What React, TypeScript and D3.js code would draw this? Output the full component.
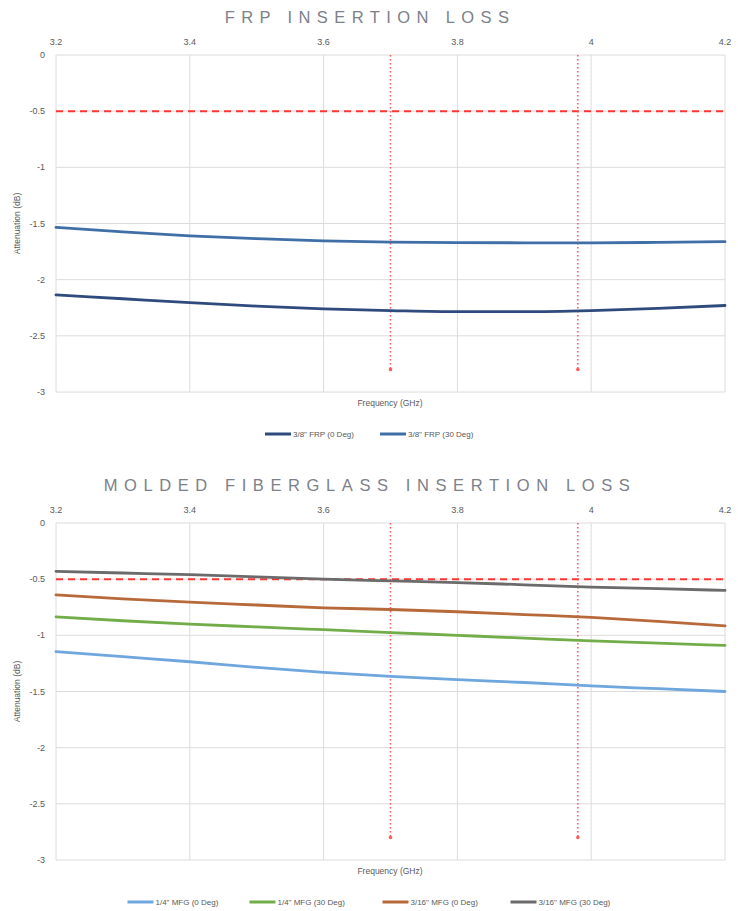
import React from "react";
import * as d3 from "d3";

const freqs = [3.2, 3.3, 3.4, 3.5, 3.6, 3.7, 3.8, 3.9, 4.0, 4.1, 4.2];
const xTicks = [3.2, 3.4, 3.6, 3.8, 4.0, 4.2];
const yTicks = [0, -0.5, -1, -1.5, -2, -2.5, -3];
const markerFreqs = [3.7, 3.98];
const limitDb = -0.5;
const markerBottom = -2.8;

const frp0 = [-2.135, -2.17, -2.205, -2.235, -2.26, -2.275, -2.285, -2.285, -2.275, -2.255, -2.23];
const frp30 = [-1.535, -1.575, -1.61, -1.635, -1.655, -1.665, -1.67, -1.672, -1.672, -1.668, -1.662];
const mfg14_0 = [-1.145, -1.19, -1.235, -1.285, -1.33, -1.365, -1.395, -1.42, -1.45, -1.475, -1.5];
const mfg14_30 = [-0.835, -0.87, -0.9, -0.925, -0.95, -0.975, -1.0, -1.025, -1.05, -1.07, -1.09];
const mfg316_0 = [-0.64, -0.675, -0.705, -0.73, -0.755, -0.77, -0.79, -0.815, -0.84, -0.875, -0.915];
const mfg316_30 = [-0.43, -0.445, -0.46, -0.48, -0.5, -0.515, -0.53, -0.55, -0.57, -0.585, -0.6];

const frpNames = ['3/8" FRP (0 Deg)', '3/8" FRP (30 Deg)'];
const frpColors = ["#2f4a7c", "#3f6fa6"];
const mfgNames = ['1/4" MFG (0 Deg)', '1/4" MFG (30 Deg)', '3/16" MFG (0 Deg)', '3/16" MFG (30 Deg)'];
const mfgColors = ["#6ea6dd", "#72ad4a", "#b8693a", "#6b6b6b"];

const FONT = "'Liberation Sans', Arial, sans-serif";

type Series = { name: string; color: string; values: number[] };

function Chart({ top, title, series, legendWidths, spacing }: { top: number; title: string; series: Series[]; legendWidths: number[]; spacing: number }) {
  const x = d3.scaleLinear().domain([3.2, 4.2]).range([56, 725]);
  const y = d3.scaleLinear().domain([0, -3]).range([top + 55, top + 392]);
  const line = d3
    .line<number>()
    .x((_, i) => x(freqs[i]))
    .y((d) => y(d))
    .curve(d3.curveMonotoneX);
  const legendY = top + 434;
  const totalW = legendWidths.reduce((a, b) => a + b, 0);
  let lx = 376 - totalW / 2;
  const legendX = legendWidths.map((w) => {
    const s = lx;
    lx += w;
    return s;
  });
  return (
    <g>
      <text x={370} y={top + 23} textAnchor="middle" fontFamily={FONT} fontSize={16.5} letterSpacing={spacing} fill="#7c808b">
        {title}
      </text>
      {xTicks.map((t) => (
        <g key={"x" + t}>
          <line x1={x(t)} x2={x(t)} y1={y(0)} y2={y(-3)} stroke="#dcdcdc" strokeWidth={1} />
          <text x={x(t)} y={top + 45} textAnchor="middle" fontFamily={FONT} fontSize={9} fill="#595959">
            {d3.format("")(t)}
          </text>
        </g>
      ))}
      {yTicks.map((t) => (
        <g key={"y" + t}>
          <line x1={x(3.2)} x2={x(4.2)} y1={y(t)} y2={y(t)} stroke="#dcdcdc" strokeWidth={1} />
          <text x={45} y={y(t) + 3} textAnchor="end" fontFamily={FONT} fontSize={9} fill="#595959">
            {t}
          </text>
        </g>
      ))}
      <text
        transform={`translate(20,${(y(0) + y(-3)) / 2}) rotate(-90)`}
        textAnchor="middle"
        fontFamily={FONT}
        fontSize={8.5}
        fill="#595959"
      >
        Attenuation (dB)
      </text>
      <text x={390} y={top + 406} textAnchor="middle" fontFamily={FONT} fontSize={8.5} fill="#595959">
        Frequency (GHz)
      </text>
      <line x1={x(3.2)} x2={x(4.2)} y1={y(limitDb)} y2={y(limitDb)} stroke="#ff3434" strokeWidth={2} strokeDasharray="7,5" />
      {markerFreqs.map((f) => (
        <g key={"m" + f}>
          <line x1={x(f)} x2={x(f)} y1={y(0)} y2={y(markerBottom)} stroke="#ff5a5a" strokeWidth={1.6} strokeDasharray="1.5,2.5" />
          <circle cx={x(f)} cy={y(markerBottom)} r={1.8} fill="#ff5a5a" />
        </g>
      ))}
      {series.map((s) => (
        <path key={s.name} d={line(s.values) || ""} fill="none" stroke={s.color} strokeWidth={2.8} strokeLinecap="round" />
      ))}
      {series.map((s, i) => (
        <g key={"l" + s.name}>
          <line x1={legendX[i]} x2={legendX[i] + 26} y1={legendY} y2={legendY} stroke={s.color} strokeWidth={3} />
          <text x={legendX[i] + 28} y={legendY + 3} fontFamily={FONT} fontSize={8} fill="#595959">
            {s.name}
          </text>
        </g>
      ))}
    </g>
  );
}

export default function App() {
  const frpSeries: Series[] = [
    { name: frpNames[0], color: frpColors[0], values: frp0 },
    { name: frpNames[1], color: frpColors[1], values: frp30 },
  ];
  const mfgSeries: Series[] = [
    { name: mfgNames[0], color: mfgColors[0], values: mfg14_0 },
    { name: mfgNames[1], color: mfgColors[1], values: mfg14_30 },
    { name: mfgNames[2], color: mfgColors[2], values: mfg316_0 },
    { name: mfgNames[3], color: mfgColors[3], values: mfg316_30 },
  ];
  return (
    <svg width={738} height={911} style={{ position: "absolute", left: 0, top: 0, background: "#fff" }}>
      <rect width={738} height={911} fill="#fff" />
      <Chart top={0} title="FRP INSERTION LOSS" series={frpSeries} legendWidths={[115, 107]} spacing={6.4} />
      <Chart top={468} title="MOLDED FIBERGLASS INSERTION LOSS" series={mfgSeries} legendWidths={[122, 133, 128, 114]} spacing={6.6} />
    </svg>
  );
}
